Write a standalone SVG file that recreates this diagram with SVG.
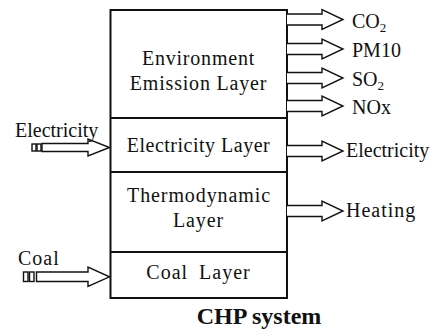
<svg xmlns="http://www.w3.org/2000/svg" width="436" height="332" viewBox="0 0 436 332">
<style>
text{font-family:'Liberation Serif','Times New Roman','DejaVu Serif',serif;font-size:20px;fill:#111}
.c{text-anchor:middle}
.box{fill:#fff;stroke:#111;stroke-width:2}
.div{stroke:#111;stroke-width:2}
.arr{fill:#fff;stroke:#111;stroke-width:1.4;stroke-linejoin:miter}
.sub{font-size:13px}
.title{font-weight:bold;font-size:24px}
</style>
<defs>
<path id="outArrow" d="M0,-5.5 H35 V-10 L56,0 L35,10 V5.5 H0"/>
</defs>
<rect width="436" height="332" fill="#fff"/>
<g id="chp-system">
<rect id="outer-box" class="box" x="110.5" y="10" width="176.5" height="288"/>
</g>
<g id="environment-layer">
<text class="c" x="198.5" y="65" style="letter-spacing:0.8px">Environment</text>
<text class="c" x="198.5" y="90" style="letter-spacing:0.8px">Emission Layer</text>
</g>
<g id="electricity-layer">
<line class="div" x1="110.5" y1="118" x2="288" y2="118"/>
<text class="c" x="198.5" y="151.5" style="letter-spacing:0.5px">Electricity Layer</text>
</g>
<g id="thermodynamic-layer">
<line class="div" x1="110.5" y1="172" x2="288" y2="172"/>
<text class="c" x="199" y="201.5" style="letter-spacing:0.9px">Thermodynamic</text>
<text class="c" x="198.5" y="227" style="letter-spacing:0.9px">Layer</text>
</g>
<g id="coal-layer">
<line class="div" x1="110.5" y1="252" x2="288" y2="252"/>
<text class="c" x="198.5" y="279" style="letter-spacing:1px;word-spacing:5px">Coal Layer</text>
</g>
<g id="title">
<text class="c title" x="259" y="324">CHP system</text>
</g>
<g id="connectors">
<use href="#outArrow" class="arr" x="287" y="19.5"/>
<use href="#outArrow" class="arr" x="287" y="49"/>
<use href="#outArrow" class="arr" x="287" y="78"/>
<use href="#outArrow" class="arr" x="287" y="106"/>
<use href="#outArrow" class="arr" x="287" y="151"/>
<use href="#outArrow" class="arr" x="287" y="211"/>
<g id="electricity-in">
<rect class="arr" x="32" y="144" width="4" height="7"/>
<rect class="arr" x="37" y="144" width="4" height="7"/>
<path class="arr" d="M42,143.5 H88 V139 L109.5,147.5 L88,156 V151.5 H42 Z"/>
</g>
<g id="coal-in">
<rect class="arr" x="23.5" y="272" width="4.5" height="9.5"/>
<rect class="arr" x="29.5" y="272" width="4.5" height="9.5"/>
<path class="arr" d="M36.5,272 H88 V267 L109.5,276.8 L88,286.5 V281.5 H36.5 Z"/>
</g>
</g>
<g id="labels">
<text x="352" y="28">CO<tspan class="sub" dy="4">2</tspan></text>
<text x="352" y="57">PM10</text>
<text x="352" y="86">SO<tspan class="sub" dy="4">2</tspan></text>
<text x="352" y="114">NOx</text>
<text x="346" y="157">Electricity</text>
<text x="346" y="217" style="letter-spacing:1px">Heating</text>
<text x="15" y="137">Electricity</text>
<text x="18" y="265" style="letter-spacing:1px">Coal</text>
</g>
</svg>
